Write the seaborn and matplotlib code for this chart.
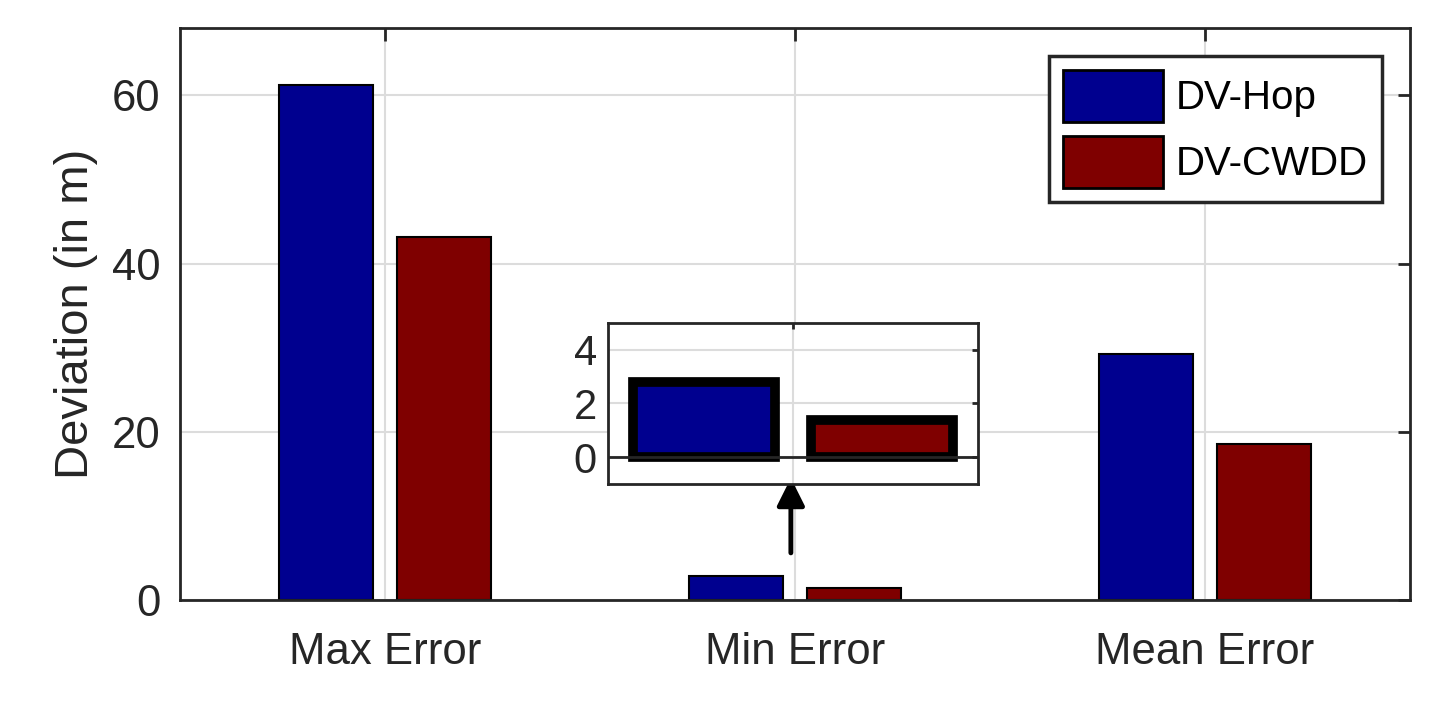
import seaborn as sns
import matplotlib.pyplot as plt
import pandas as pd

# values
metrics = ["Max Error", "Min Error", "Mean Error"]
dv_hop = [61.2, 2.8, 29.3]
dv_cwdd = [43.2, 1.4, 18.6]
methods = ["DV-Hop", "DV-CWDD"]
colors = {"DV-Hop": "#00008f", "DV-CWDD": "#7f0000"}

df = pd.DataFrame({
    "metric": metrics * 2,
    "value": dv_hop + dv_cwdd,
    "method": ["DV-Hop"] * 3 + ["DV-CWDD"] * 3,
})

sns.set_style("white")
plt.rcParams["font.family"] = ["Liberation Sans", "DejaVu Sans"]
dark = "#262626"

fig = plt.figure(figsize=(14.32, 7.2), dpi=100)
ax = fig.add_axes([0.1257, 0.1667, 0.8589, 0.7944])

sns.barplot(data=df, x="metric", y="value", hue="method", hue_order=methods,
            palette=colors, saturation=1, width=0.576, gap=0.2, errorbar=None,
            edgecolor="black", linewidth=1.5, ax=ax)

ax.set_xlim(-0.5, 2.5)
ax.set_ylim(0, 68)
ax.set_yticks([0, 20, 40, 60])
ax.set_xlabel("")
ax.set_ylabel("Deviation (in m)", fontsize=34, color=dark, labelpad=10)
ax.grid(True, color="#dcdcdc", linewidth=1.5)
ax.set_axisbelow(True)
ax.tick_params(axis="both", direction="in", length=9, width=2, colors=dark,
               top=True, right=True)
ax.tick_params(axis="x", pad=23, labelsize=31.5)
ax.tick_params(axis="y", pad=14, labelsize=31.5)
for s in ax.spines.values():
    s.set_visible(True)
    s.set_color(dark)
    s.set_linewidth(2)

sns.move_legend(ax, "upper right", title=None, frameon=True, fancybox=False,
                fontsize=29, handlelength=2.5, handleheight=1.6,
                handletextpad=0.3, labelspacing=0.35, borderaxespad=0.7,
                borderpad=0.35)
leg = ax.get_legend()
leg.get_frame().set_edgecolor(dark)
leg.get_frame().set_linewidth(2.5)
leg.get_frame().set_alpha(1)
for h in leg.legend_handles:
    h.set_edgecolor("black")
    h.set_linewidth(2)
for t in leg.get_texts():
    t.set_color("black")

# arrow pointing at the zoomed inset
ax.annotate("", xy=(0.99, 14.5), xytext=(0.99, 5.6),
            arrowprops=dict(arrowstyle="-|>", lw=3.5, color="black",
                            mutation_scale=42, shrinkA=0, shrinkB=0))

# inset zoom of the Min Error bars
ins = fig.add_axes([0.4246, 0.3278, 0.2584, 0.2236])
df_min = df[df["metric"] == "Min Error"]
sns.barplot(data=df_min, x="metric", y="value", hue="method", hue_order=methods,
            palette=colors, saturation=1, width=0.576, gap=0.2, errorbar=None,
            edgecolor="black", linewidth=7, legend=False, ax=ins)
ins.set_xlim(-0.30, 0.30)
ins.set_ylim(-1, 5)
ins.set_yticks([0, 2, 4])
ins.set_xticks([0])
ins.set_xticklabels([])
ins.set_xlabel("")
ins.set_ylabel("")
ins.axhline(0, color=dark, linewidth=2, zorder=1)
ins.grid(True, color="#dcdcdc", linewidth=1.5)
ins.set_axisbelow(True)
ins.tick_params(axis="both", direction="in", length=4, width=2, colors=dark,
                labelsize=30, top=True, right=True, bottom=False, pad=8)
for s in ins.spines.values():
    s.set_visible(True)
    s.set_color(dark)
    s.set_linewidth(2)

fig.savefig("out.png", dpi=100, facecolor="white")
